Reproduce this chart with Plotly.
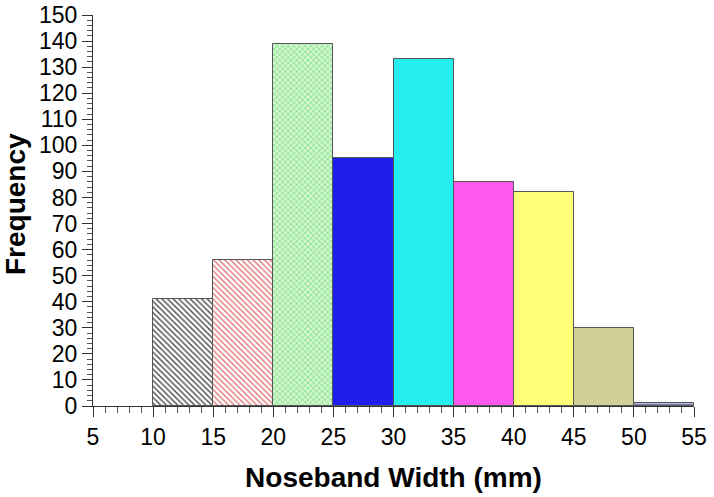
import plotly.graph_objects as go

bin_starts = [10, 15, 20, 25, 30, 35, 40, 45, 50]
frequencies = [41, 56, 139, 95, 133, 86, 82, 30, 1]
bar_colors = ["#ffffff", "#ffffff", "#d2f6d2", "#1e1eec", "#24eeee", "#ff58ee", "#ffff78", "#d0d094", "#b4b8d6"]
pattern_fg = ["#4a4a4a", "#e06868", "#6edc6e", "#1e1eec", "#24eeee", "#ff58ee", "#ffff78", "#d0d094", "#7078a8"]
pattern_shapes = ["\\", "\\", "x", "", "", "", "", "", "-"]
pattern_solidity = [0.35, 0.3, 0.3, 0.3, 0.3, 0.3, 0.3, 0.3, 0.4]

bin_width = 5

fig = go.Figure()
for i, start in enumerate(bin_starts):
    fig.add_trace(go.Bar(
        x=[start + bin_width / 2],
        y=[frequencies[i]],
        width=[bin_width],
        marker=dict(
            color=bar_colors[i],
            line=dict(color="#555555", width=1),
            pattern=dict(shape=pattern_shapes[i], fgcolor=pattern_fg[i], bgcolor=bar_colors[i],
                         size=4, solidity=pattern_solidity[i], fillmode="replace"),
        ),
        showlegend=False,
    ))

font_family = "Liberation Sans, Arial, sans-serif"
fig.update_layout(
    width=714, height=497,
    margin=dict(l=93, r=20, t=15, b=91),
    plot_bgcolor="white", paper_bgcolor="white",
    font=dict(family=font_family, color="black"),
    bargap=0, barmode="overlay",
    annotations=[dict(
        text="<b>Frequency</b>", textangle=-90,
        xref="paper", yref="paper",
        x=(15 - 93) / 601, y=(406 - 204) / 391,
        xanchor="center", yanchor="middle", showarrow=False,
        font=dict(size=28, family=font_family, color="black"),
    )],
)
fig.update_xaxes(
    range=[5, 55], tickmode="linear", tick0=5, dtick=5, automargin=False,
    showgrid=False, zeroline=False,
    showline=True, linecolor="#333333", linewidth=1,
    ticks="outside", ticklen=10, tickcolor="#333333",
    minor=dict(ticks="outside", dtick=1, ticklen=6, tickcolor="#555555", showgrid=False),
    tickfont=dict(size=23, family=font_family),
    title=dict(text="<b>Noseband Width (mm)</b>", font=dict(size=28, family=font_family), standoff=18),
)
fig.update_yaxes(
    range=[0, 150], tickmode="linear", tick0=0, dtick=10, automargin=False,
    showgrid=False, zeroline=False,
    showline=True, linecolor="#333333", linewidth=1,
    ticks="outside", ticklen=10, tickcolor="#333333",
    minor=dict(ticks="outside", dtick=2, ticklen=5, tickcolor="#555555", showgrid=False),
    tickfont=dict(size=23, family=font_family),
)

fig.write_html("out.html", config={"displayModeBar": False},
               post_script="document.body.style.margin='0';")
